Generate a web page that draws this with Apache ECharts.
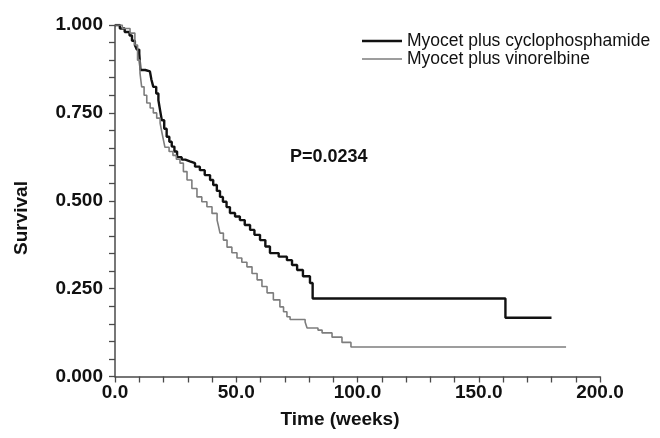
<!DOCTYPE html>
<html>
<head>
<meta charset="utf-8">
<script src="https://cdn.jsdelivr.net/npm/echarts@6/dist/echarts.min.js"></script>
<style>html,body{margin:0;padding:0;background:#fff}#c{width:660px;height:438px}</style>
</head>
<body>
<div id="c"></div>
<script>
// Kaplan-Meier step points [time (weeks), survival]
const cycloTimes = [0, 2, 4, 6, 7, 8.2, 9, 10, 10.3, 10.5, 12.5, 14.4, 15, 15.8, 17, 17.9, 18.6, 19.3, 20.3, 21.3, 22.4, 23.4, 24.5, 25.6, 27.5, 29, 30.9, 33, 35, 37, 39.2, 40.5, 42, 43.3, 44.5, 46, 47.4, 49.5, 51.5, 53.5, 55.7, 57.5, 59.8, 62, 63.9, 67.5, 70.9, 73, 75.1, 77.5, 80.4, 81.5, 161, 180];
const cycloSurv  = [1.000, 0.990, 0.980, 0.970, 0.955, 0.943, 0.930, 0.919, 0.890, 0.872, 0.868, 0.863, 0.845, 0.824, 0.805, 0.786, 0.757, 0.729, 0.705, 0.682, 0.668, 0.654, 0.640, 0.624, 0.617, 0.612, 0.607, 0.597, 0.587, 0.573, 0.559, 0.545, 0.528, 0.511, 0.497, 0.482, 0.465, 0.455, 0.445, 0.431, 0.417, 0.403, 0.388, 0.370, 0.351, 0.341, 0.331, 0.317, 0.303, 0.285, 0.266, 0.222, 0.167, 0.167];
const vinoTimes = [0, 3, 6.2, 8.2, 9.3, 10.3, 11, 12, 13.1, 14.5, 15.8, 17.2, 18.6, 19.4, 20, 20.6, 22.3, 23.9, 25.3, 26.8, 28.2, 29.7, 31.7, 33.8, 35.8, 37.9, 40, 42.1, 42.7, 43.3, 44.7, 46.2, 48.2, 50.3, 52.3, 54.4, 56.5, 58.6, 60.6, 62.7, 65.3, 68, 69.5, 70.9, 72.2, 78.4, 79.2, 83.7, 85.4, 89.5, 93.6, 97.3, 186];
const vinoSurv  = [1.000, 0.990, 0.977, 0.943, 0.900, 0.863, 0.824, 0.800, 0.778, 0.764, 0.750, 0.735, 0.721, 0.692, 0.672, 0.652, 0.640, 0.629, 0.618, 0.607, 0.583, 0.559, 0.535, 0.511, 0.497, 0.483, 0.464, 0.445, 0.427, 0.408, 0.388, 0.368, 0.352, 0.337, 0.325, 0.312, 0.293, 0.275, 0.256, 0.238, 0.218, 0.198, 0.184, 0.170, 0.162, 0.155, 0.138, 0.132, 0.124, 0.112, 0.097, 0.084, 0.084];
const seriesNames = ['Myocet plus cyclophosphamide', 'Myocet plus vinorelbine'];
const xTickLabels = ['0.0', '50.0', '100.0', '150.0', '200.0'];
const yTickLabels = ['0.000', '0.250', '0.500', '0.750', '1.000'];
const pValueText = 'P=0.0234';

const zip = (a, b) => a.map((v, i) => [v, b[i]]);
const FONT = '"Liberation Sans", Arial, sans-serif';
const AXIS_COLOR = '#4a4a4a';
const chart = echarts.init(document.getElementById('c'), null, {renderer: 'canvas'});
chart.setOption({
  animation: false,
  backgroundColor: '#fff',
  grid: {left: 115, right: 60, top: 25, bottom: 61.5},
  xAxis: {
    type: 'value', min: 0, max: 200, interval: 10,
    axisLine: {onZero: false, lineStyle: {color: AXIS_COLOR, width: 1.5}},
    axisTick: {inside: false, length: 6, lineStyle: {color: AXIS_COLOR, width: 1.3}},
    splitLine: {show: false},
    axisLabel: {
      fontFamily: FONT, fontWeight: 'bold', fontSize: 19, color: '#111', margin: 7,
      formatter: v => (v % 50 === 0 ? xTickLabels[v / 50] : '')
    }
  },
  yAxis: {
    type: 'value', min: 0, max: 1, interval: 0.05,
    axisLine: {show: true, onZero: false, lineStyle: {color: AXIS_COLOR, width: 1.5}},
    axisTick: {show: true, inside: false, length: 6, lineStyle: {color: AXIS_COLOR, width: 1.3}},
    splitLine: {show: false},
    axisLabel: {
      fontFamily: FONT, fontWeight: 'bold', fontSize: 19, color: '#111', margin: 12,
      formatter: v => {
        const k = Math.round(v * 20);
        return k % 5 === 0 ? yTickLabels[k / 5] : '';
      }
    }
  },
  legend: {
    orient: 'vertical', left: 362, top: 32, padding: 0, itemGap: 0, itemWidth: 40, itemHeight: 17,
    textStyle: {fontFamily: FONT, fontSize: 17.5, color: '#111'},
    data: [
      {name: seriesNames[0], icon: 'path://M0,0h40v2.4h-40z'},
      {name: seriesNames[1], icon: 'path://M0,0h40v1.6h-40z'}
    ]
  },
  graphic: [
    {type: 'text', left: 290, top: 148, style: {text: pValueText, font: 'bold 18px ' + FONT, fill: '#111'}},
    {type: 'text', x: 340, y: 420, style: {text: 'Time (weeks)', font: 'bold 19px ' + FONT, fill: '#111', align: 'center', verticalAlign: 'middle'}},
    {type: 'text', x: 22, y: 218, rotation: Math.PI / 2, style: {text: 'Survival', font: 'bold 19px ' + FONT, fill: '#111', align: 'center', verticalAlign: 'middle'}}
  ],
  series: [
    {name: seriesNames[0], type: 'line', step: 'end', symbol: 'none', data: zip(cycloTimes, cycloSurv),
     lineStyle: {color: '#111', width: 2.4}, itemStyle: {color: '#111'}},
    {name: seriesNames[1], type: 'line', step: 'end', symbol: 'none', data: zip(vinoTimes, vinoSurv),
     lineStyle: {color: '#7d7d7d', width: 1.6}, itemStyle: {color: '#7d7d7d'}}
  ]
});
</script>
</body>
</html>
